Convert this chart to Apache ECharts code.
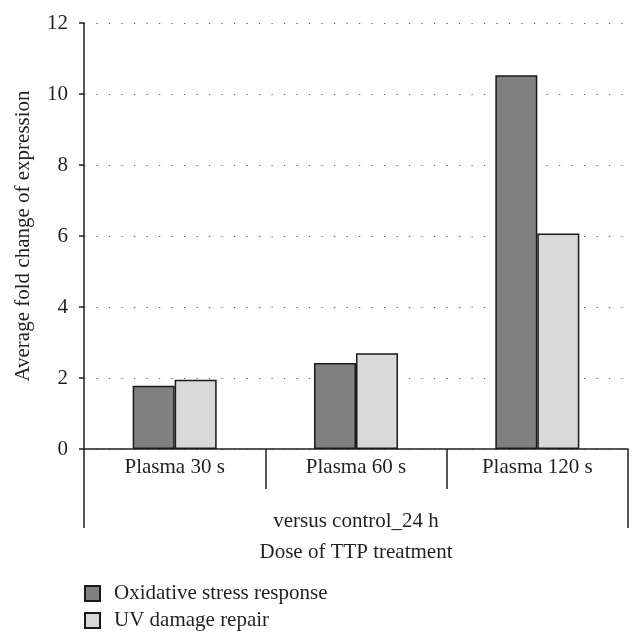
<!DOCTYPE html>
<html><head><meta charset="utf-8">
<script src="https://cdn.jsdelivr.net/npm/echarts@6/dist/echarts.min.js"></script>
<style>html,body{margin:0;padding:0;background:#fff}#c{width:643px;height:643px}</style>
</head><body><div id="c"></div>
<script>
const categories = ['Plasma 30 s', 'Plasma 60 s', 'Plasma 120 s'];
const groupLabel = ['versus control_24 h'];
const oxidative = [1.78, 2.42, 10.53];
const uvRepair = [1.95, 2.70, 6.07];
const seriesNames = ['Oxidative stress response', 'UV damage repair'];
const F = 'Liberation Serif';
const FS = 21;
const ink = '#231f20';
const chart = echarts.init(document.getElementById('c'));
chart.setOption({
  animation: false,
  textStyle: { fontFamily: F, color: ink },
  grid: { left: 84, right: 15, top: 23, bottom: 194 },
  legend: {
    left: 79, top: 578, orient: 'vertical', itemGap: 6,
    itemWidth: 15, itemHeight: 15, icon: 'rect',
    textStyle: { fontFamily: F, fontSize: FS, color: ink, padding: [0, 0, 0, 9] },
    data: seriesNames
  },
  xAxis: [{
    type: 'category', data: categories, position: 'bottom',
    axisLine: { lineStyle: { color: ink, width: 1.5 } },
    axisTick: { show: true, interval: 0, length: 40, lineStyle: { color: ink, width: 1.5 } },
    axisLabel: { fontFamily: F, fontSize: FS, color: ink, margin: 8 }
  }, {
    type: 'category', data: groupLabel, position: 'bottom',
    axisLine: { show: false },
    axisTick: { show: true, interval: 0, length: 79, lineStyle: { color: ink, width: 1.5 } },
    axisLabel: { fontFamily: F, fontSize: FS, color: ink, margin: 62 },
    name: 'Dose of TTP treatment', nameLocation: 'middle', nameGap: 93,
    nameTextStyle: { fontFamily: F, fontSize: FS, color: ink }
  }],
  yAxis: {
    type: 'value', min: 0, max: 12, interval: 2,
    name: 'Average fold change of expression', nameLocation: 'middle', nameGap: 50,
    nameTextStyle: { fontFamily: F, fontSize: FS, color: ink },
    axisLine: { show: true, lineStyle: { color: ink, width: 1.5 } },
    axisTick: { show: true, length: 5, lineStyle: { color: ink, width: 1.5 } },
    axisLabel: { fontFamily: F, fontSize: FS, color: ink, margin: 16 },
    splitLine: { show: true, lineStyle: { color: '#555', width: 1.2, type: [1.2, 11.3] } }
  },
  series: [{
    name: seriesNames[0], type: 'bar', data: oxidative,
    barWidth: 42, barGap: '0%', barCategoryGap: '53%',
    itemStyle: { color: '#808080', borderColor: '#1a1a1a', borderWidth: 1.5 }
  }, {
    name: seriesNames[1], type: 'bar', data: uvRepair,
    barWidth: 42, barGap: '0%',
    itemStyle: { color: '#d9d9d9', borderColor: '#1a1a1a', borderWidth: 1.5 }
  }]
});
</script></body></html>
